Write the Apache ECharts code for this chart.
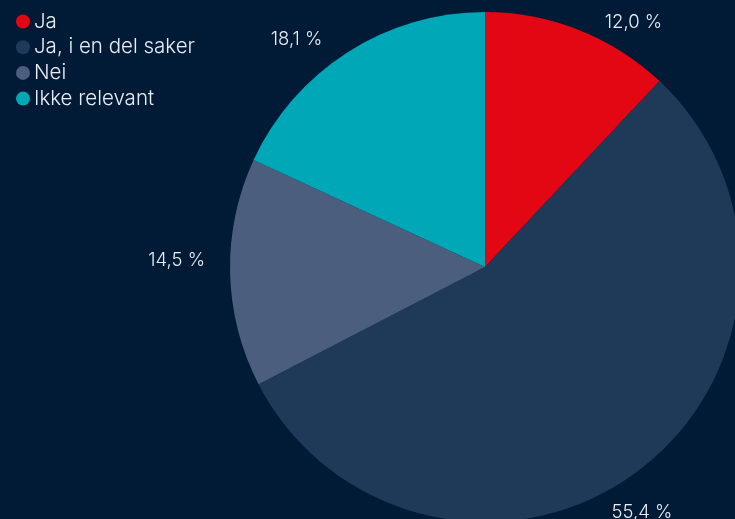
<!DOCTYPE html>
<html><head><meta charset="utf-8">
<script src="https://cdn.jsdelivr.net/npm/echarts@6/dist/echarts.min.js"></script>
<style>html,body{margin:0;padding:0;background:#011b37;}#c{width:735px;height:519px;}</style>
</head><body><div id="c"></div>
<script>
const categories = ["Ja", "Ja, i en del saker", "Nei", "Ikke relevant"];
const values = [12.0, 55.4, 14.5, 18.1];
const colors = ["#e30613", "#1f3a59", "#4b5e7d", "#00a7b6"];

const labelShift = {1: {dx: -55, dy: 36}, 2: {dx: 6, dy: -12}, 3: {dx: 2, dy: -6}, 0: {dx: 0, dy: 0}};

const chart = echarts.init(document.getElementById('c'), null, {renderer: 'canvas'});
chart.setOption({
  backgroundColor: '#011b37',
  animation: false,
  color: colors,
  legend: {
    orient: 'vertical', left: 11, top: 6,
    icon: 'circle', itemWidth: 14, itemHeight: 14, itemGap: 4.7,
    textStyle: {color: '#e9edf2', fontSize: 20.5, fontFamily: 'Inter', fontWeight: 300, padding: [0,0,0,-1]},
    data: categories
  },
  series: [{
    type: 'pie',
    center: [485, 267],
    radius: 255,
    startAngle: 90,
    clockwise: true,
    avoidLabelOverlap: false,
    data: categories.map((n, i) => ({name: n, value: values[i]})),
    label: {
      show: true, position: 'outside', color: '#e9edf2', fontSize: 18.5, fontFamily: 'Inter', fontWeight: 300,
      formatter: p => p.value.toFixed(1).replace('.', ',') + ' %'
    },
    labelLine: {show: false, length: 8, length2: 18},
    labelLayout: p => labelShift[p.dataIndex],
    itemStyle: {borderWidth: 0}
  }]
});
</script></body></html>
